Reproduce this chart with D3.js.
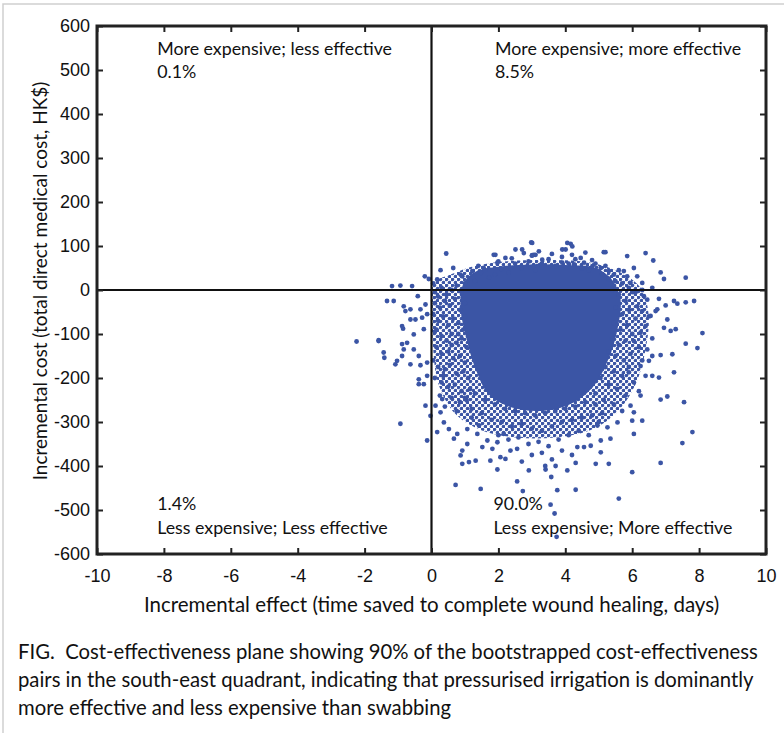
<!DOCTYPE html>
<html>
<head>
<meta charset="utf-8">
<script src="https://cdn.jsdelivr.net/npm/d3@7"></script>
<style>
  body { margin: 0; background: #fff; }
  svg { font-family: Lato, "Open Sans", sans-serif; }
  .tick text { font-size: 18px; fill: #111; }
</style>
</head>
<body>
<svg width="784" height="733"></svg>
<script>
// tick values
const xTicks = [-10, -8, -6, -4, -2, 0, 2, 4, 6, 8, 10];
const yTicks = [600, 500, 400, 300, 200, 100, 0, -100, -200, -300, -400, -500, -600];

// outline of the solid core of the bootstrap cloud (effect, cost)
const coreOutline = [
  [0.93, 10], [1.23, 38], [1.91, 52], [2.96, 58], [4.01, 57], [4.91, 50], [5.41, 22],
  [5.65, -21], [5.56, -89], [5.29, -157], [4.82, -221], [4.16, -259], [3.26, -275],
  [2.36, -266], [1.71, -237], [1.32, -180], [1.05, -112], [0.87, -44]
];
// outline of the speckled zone round the core
const haloOutline = [
  [0.03, 15], [0.57, 35], [1.32, 55], [2.36, 66], [3.56, 68], [4.76, 62], [5.65, 40],
  [6.25, 5], [6.49, -55], [6.40, -135], [6.10, -214], [5.50, -282], [4.76, -318],
  [3.71, -335], [2.51, -335], [1.47, -318], [0.72, -282], [0.21, -214], [0.03, -112], [0.0, -21]
];

// individual bootstrap replicates (effect, cost)
const leftPoints = [
  [-2.24, -117], [-1.58, -114], [-0.93, -304], [-0.13, -342], [-1.18, 9], [-0.93, 10], [-0.58, 9],
  [-1.33, -25], [-1.13, -25], [-0.83, -37], [-0.63, -44], [-0.78, -48], [-0.41, -14],
  [-0.33, -44], [-0.18, -33], [-0.48, -67], [-0.28, -63], [-0.13, -55], [-0.88, -82],
  [-0.85, -88], [-0.53, -101], [-0.23, -89], [-1.58, -116], [-0.73, -120], [-0.88, -123],
  [-1.43, -142], [-1.41, -154], [-1.08, -169], [-1.03, -161], [-0.63, -169], [-0.33, -171],
  [-0.13, -165], [-0.38, -203], [-0.23, -214], [-0.13, -195], [-0.83, -135], [-0.53, -135],
  [-0.38, -150], [-0.63, -67], [-0.88, -150], [-0.2, 31], [-0.08, 25], [-0.18, -263], [-0.38, -214]
];
const bandPoints = [
  [0.05, 15], [0.1, -5], [0.2, -15], [0.3, 5], [0.45, -10], [0.6, 0], [0.75, 10], [0.9, -5],
  [0.1, -30], [0.25, -40], [0.4, -25], [0.55, -35], [0.7, -20], [0.85, -45], [1.0, -30],
  [0.05, -55], [0.2, -70], [0.35, -60], [0.5, -80], [0.65, -65], [0.8, -75], [0.95, -90],
  [0.1, -95], [0.3, -105], [0.45, -115], [0.6, -100], [0.75, -120], [0.9, -110], [1.05, -130],
  [0.15, -130], [0.3, -145], [0.5, -140], [0.65, -155], [0.85, -150], [1.0, -165], [0.05, -160],
  [0.2, -175], [0.4, -180], [0.55, -170], [0.75, -190], [0.95, -185], [1.1, -200], [0.1, -200],
  [0.3, -210], [0.5, -220], [0.7, -215], [0.9, -230], [1.15, -225], [0.25, -240], [0.6, -245],
  [0.85, -255], [1.05, -250], [0.4, -265], [0.75, -275], [1.2, -270], [0.15, -90], [0.6, -125],
  [0.35, -195], [0.8, -100], [1.0, -60], [0.17, -323], [-0.03, -286], [0.12, -263], [0.32, -248],
  [0.27, -278], [0.52, -316], [0.77, -327], [0.37, -301], [0.67, -338]
];
const topPoints = [
  [0.44, 83], [0.27, 45], [0.65, 50], [0.17, 24], [0.87, 35], [1.91, 80], [2.51, 92], [2.76, 84],
  [2.98, 108], [3.06, 80], [2.21, 73], [1.97, 62], [1.56, 50], [1.22, 43], [1.48, 39], [0.92, 31],
  [1.72, 28], [4.06, 107], [4.16, 105], [2.71, 92], [1.86, 80], [3.21, 88], [3.01, 79], [3.91, 92],
  [5.15, 86], [4.46, 73], [4.21, 99], [4.01, 92], [5.20, 86], [5.85, 77], [6.40, 84], [6.63, 67],
  [3.11, 80], [3.31, 69], [3.16, 54], [3.91, 62], [4.26, 58], [4.56, 62], [4.81, 54], [5.06, 50],
  [5.30, 43], [5.45, 35], [5.75, 43], [5.85, 31], [6.05, 50], [6.15, 31], [5.95, 16], [6.30, 16],
  [3.01, 107], [1.0, 15], [1.3, 20], [1.6, 45], [1.9, 35], [2.1, 48], [2.3, 40], [2.5, 60],
  [2.7, 50], [2.9, 65], [3.1, 45], [3.3, 60], [3.5, 70], [3.7, 55], [3.9, 75], [4.1, 60],
  [4.3, 70], [4.5, 50], [4.7, 45], [4.9, 60], [5.1, 35], [5.3, 25], [5.5, 20], [5.7, 15],
  [5.9, 5], [2.4, 72], [3.6, 82], [4.2, 80], [4.8, 68], [2.0, 65], [1.4, 55], [3.0, 78],
  [4.6, 85], [5.6, 45], [6.1, -5], [5.2, 55]
];
const rightPoints = [
  [6.85, 40], [6.95, 25], [7.60, 28], [7.25, -25], [7.35, -31], [7.60, -28], [7.85, -25],
  [8.10, -98], [7.95, -132], [7.60, -122], [7.25, -187], [6.70, -48], [6.75, -44], [7.05, -67],
  [6.95, -86], [7.15, -93], [7.30, -89], [7.20, -146], [6.85, -148], [6.60, -150], [6.45, -135],
  [6.35, -14], [6.45, -22], [6.15, -37], [6.30, -48], [6.55, -59], [6.40, -82], [6.25, -97],
  [6.05, -116], [6.50, -161], [6.25, -173], [6.40, -195], [6.05, -210], [5.90, -187], [6.60, -195],
  [6.80, -199], [5.4, 0], [5.6, -10], [5.8, -25], [6.0, -5], [5.5, -40], [5.7, -55], [5.9, -45],
  [6.1, -65], [5.45, -75], [5.65, -90], [5.85, -80], [6.0, -100], [5.4, -110], [5.6, -125],
  [5.8, -115], [6.2, -130], [5.3, -140], [5.5, -150], [5.75, -160], [5.95, -145], [5.2, -175],
  [5.45, -185], [5.7, -195], [5.9, -175], [5.05, -200], [5.3, -215], [5.55, -225], [5.8, -240],
  [6.2, -230], [4.9, -235], [5.15, -250], [5.45, -260], [5.7, -275], [6.3, -160], [6.6, -110],
  [6.5, -60], [6.8, -20], [6.3, 0], [6.6, 5], [7.0, -35]
];
const bottomPoints = [
  [7.55, -255], [7.80, -323], [7.50, -348], [6.85, -393], [6.00, -414], [5.60, -474], [4.31, -454],
  [3.76, -455], [3.56, -488], [3.68, -508], [3.74, -561], [5.30, -395], [4.91, -395], [4.31, -393],
  [4.06, -410], [3.71, -400], [3.41, -408], [3.58, -425], [6.05, -327], [6.00, -297], [6.05, -278],
  [6.30, -297], [6.85, -249], [7.05, -242], [6.25, -240], [5.95, -263], [5.06, -369], [5.35, -338],
  [5.06, -342], [4.76, -354], [4.56, -357], [4.36, -357], [5.26, -312], [5.56, -301], [4.96, -308],
  [0.72, -443], [1.47, -452], [2.56, -435], [2.73, -457], [2.91, -410], [1.97, -408], [0.92, -395],
  [1.12, -391], [1.32, -388], [0.87, -376], [0.92, -365], [1.07, -350], [1.52, -357], [1.76, -388],
  [2.06, -380], [2.21, -384], [1.82, -361], [2.36, -365], [2.56, -361], [1.07, -316], [1.37, -327],
  [1.42, -308], [1.67, -342], [1.97, -346], [2.16, -327], [1.3, -235], [1.6, -250], [1.9, -260],
  [2.2, -270], [2.5, -275], [2.8, -280], [3.1, -285], [3.4, -280], [3.7, -275], [4.0, -270],
  [4.3, -265], [4.6, -255], [4.9, -260], [1.5, -280], [1.8, -295], [2.1, -300], [2.4, -310],
  [2.7, -305], [3.0, -315], [3.3, -320], [3.6, -310], [3.9, -300], [4.2, -295], [4.5, -290],
  [4.8, -285], [2.0, -330], [2.3, -340], [2.6, -335], [2.9, -350], [3.2, -345], [3.5, -355],
  [3.8, -340], [4.1, -330], [4.4, -320], [4.7, -330], [3.0, -375], [3.3, -370], [3.6, -385],
  [3.9, -365], [4.2, -375], [2.7, -390], [3.4, -400], [1.2, -290], [1.0, -245], [5.1, -280], [5.0, -300]
];

const quadrantNotes = [
  { x: -8.2, y: 535, lines: ['More expensive; less effective', '0.1%'] },
  { x: 1.9, y: 535, lines: ['More expensive; more effective', '8.5%'] },
  { x: -8.2, y: -500, lines: ['1.4%', 'Less expensive; Less effective'] },
  { x: 1.85, y: -500, lines: ['90.0%', 'Less expensive; More effective'] }
];

const captionLines = [
  'FIG.\u00a0 Cost-effectiveness plane showing 90% of the bootstrapped cost-effectiveness',
  'pairs in the south-east quadrant, indicating that pressurised irrigation is dominantly',
  'more effective and less expensive than swabbing'
];

const dotColor = '#3b55a5';

let margin = { top: 26, right: 18, bottom: 179, left: 97 },
  width = 784 - margin.left - margin.right,
  height = 733 - margin.top - margin.bottom;

const svgRoot = d3.select('svg');

// speckle texture for the halo zone
const pat = svgRoot.append('defs').append('pattern')
  .attr('id', 'speckle')
  .attr('patternUnits', 'userSpaceOnUse')
  .attr('width', 6).attr('height', 6);
pat.append('circle').attr('cx', 1.5).attr('cy', 1.5).attr('r', 1.8).attr('fill', dotColor);
pat.append('circle').attr('cx', 4.5).attr('cy', 4.5).attr('r', 1.8).attr('fill', dotColor);

// light page border
svgRoot.append('path')
  .attr('d', 'M3,733V4H784')
  .attr('fill', 'none')
  .attr('stroke', '#cfcfcf')
  .attr('stroke-width', 1.5);

const svg = svgRoot.append('g')
  .attr('transform', `translate(${margin.left}, ${margin.top})`);

const x = d3.scaleLinear().domain([-10, 10]).range([0, width]);
const y = d3.scaleLinear().domain([-600, 600]).range([height, 0]);

const blob = d3.line().x(d => x(d[0])).y(d => y(d[1])).curve(d3.curveCatmullRomClosed);

svg.append('path')
  .datum(haloOutline)
  .attr('d', blob)
  .attr('fill', 'url(#speckle)');

// dense core of the cloud
svg.append('path')
  .datum(coreOutline)
  .attr('d', blob)
  .attr('fill', dotColor);

const allPoints = [...leftPoints, ...bandPoints, ...topPoints, ...rightPoints, ...bottomPoints];
svg.selectAll('.dot')
  .data(allPoints)
  .enter()
  .append('circle')
  .attr('class', 'dot')
  .attr('cx', d => x(d[0]))
  .attr('cy', d => y(d[1]))
  .attr('r', 2.4)
  .attr('fill', dotColor);

// quadrant lines
svg.append('line')
  .attr('x1', x(0)).attr('x2', x(0)).attr('y1', 0).attr('y2', height)
  .attr('stroke', '#111').attr('stroke-width', 2.2);
svg.append('line')
  .attr('x1', 0).attr('x2', width).attr('y1', y(0)).attr('y2', y(0))
  .attr('stroke', '#111').attr('stroke-width', 2.2);

// axes, ticks pointing inwards
const plain = d => d.toString();
const bottomAxis = svg.append('g')
  .attr('transform', `translate(0, ${height})`)
  .call(d3.axisBottom(x).tickValues(xTicks).tickSize(-6).tickPadding(15).tickFormat(plain));
const topAxis = svg.append('g')
  .call(d3.axisTop(x).tickValues(xTicks).tickSize(-6).tickFormat(''));
const leftAxis = svg.append('g')
  .call(d3.axisLeft(y).tickValues(yTicks).tickSize(-6).tickPadding(7).tickFormat(plain));
const rightAxis = svg.append('g')
  .attr('transform', `translate(${width}, 0)`)
  .call(d3.axisRight(y).tickValues(yTicks).tickSize(-6).tickFormat(''));

[bottomAxis, topAxis, leftAxis, rightAxis].forEach(a => {
  a.select('.domain').remove();
  a.selectAll('.tick line').attr('stroke', '#222').attr('stroke-width', 2);
});

// frame
svg.append('rect')
  .attr('width', width).attr('height', height)
  .attr('fill', 'none').attr('stroke', '#222').attr('stroke-width', 3);

// quadrant notes
quadrantNotes.forEach(n => {
  const t = svg.append('text')
    .attr('x', x(n.x))
    .attr('y', y(n.y))
    .attr('font-size', 17.8)
    .attr('fill', '#111');
  n.lines.forEach((l, i) => {
    t.append('tspan').attr('x', x(n.x)).attr('dy', i === 0 ? 0 : 23.5).text(l);
  });
});

// axis titles
svg.append('text')
  .attr('x', x(0))
  .attr('y', height + 58)
  .attr('text-anchor', 'middle')
  .attr('font-size', 20.5)
  .attr('fill', '#111')
  .text('Incremental effect (time saved to complete wound healing, days)');

svg.append('text')
  .attr('transform', `translate(${-57}, ${y(0) - 9}) rotate(-90)`)
  .attr('text-anchor', 'middle')
  .attr('dy', '0.35em')
  .attr('font-size', 19)
  .attr('fill', '#111')
  .text('Incremental cost (total direct medical cost, HK$)');

// caption
svgRoot.append('text')
  .attr('x', 18)
  .attr('y', 659)
  .attr('font-size', 20.3)
  .attr('fill', '#111')
  .selectAll('tspan')
  .data(captionLines)
  .enter()
  .append('tspan')
  .attr('x', 18)
  .attr('dy', (d, i) => i === 0 ? 0 : 28)
  .text(d => d);
</script>
</body>
</html>
